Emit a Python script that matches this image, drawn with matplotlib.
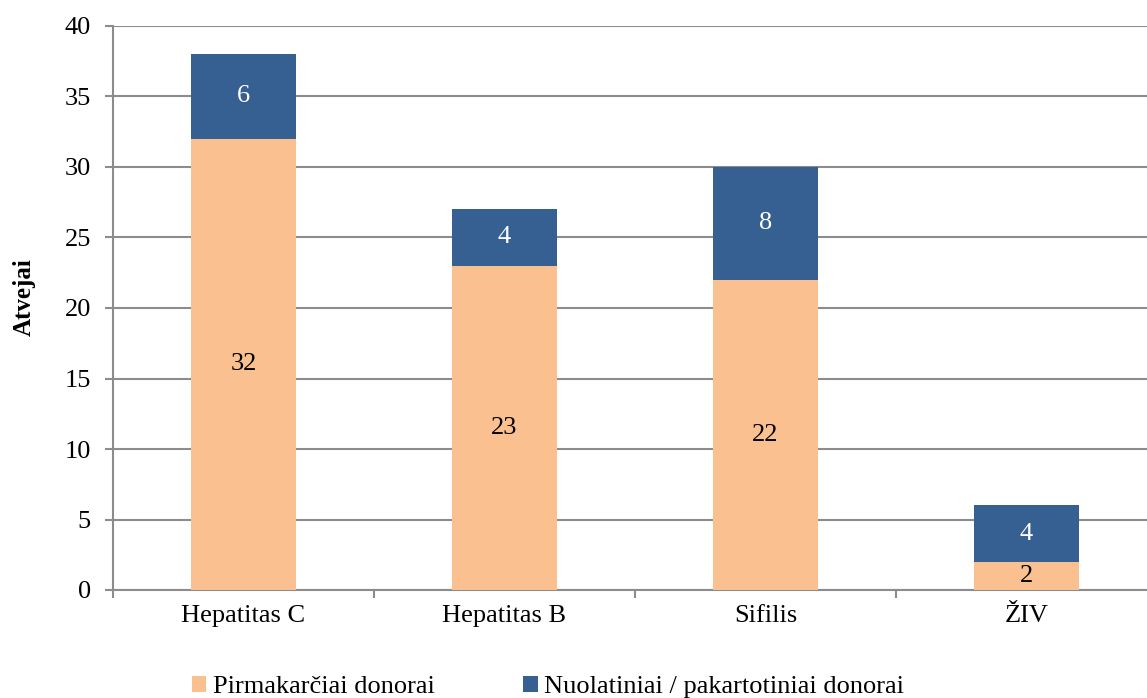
import matplotlib.pyplot as plt
from matplotlib.patches import Patch

categories = ["Hepatitas C", "Hepatitas B", "Sifilis", "ŽIV"]
first_time = [32, 23, 22, 2]
repeat = [6, 4, 8, 4]
series_names = ["Pirmakarčiai donorai", "Nuolatiniai / pakartotiniai donorai"]
y_ticks = [0, 5, 10, 15, 20, 25, 30, 35, 40]

orange = "#FAC090"
blue = "#366092"
grid_col = "#8C8C8C"

plt.rcParams['font.family'] = ['Liberation Serif', 'DejaVu Serif']

fig = plt.figure(figsize=(11.47, 6.98), dpi=100)
ax = fig.add_axes([113 / 1147, 1 - 590 / 698, 1044 / 1147, 564 / 698])

x = list(range(len(categories)))
b1 = ax.bar(x, first_time, width=0.4, color=orange, zorder=3)
b2 = ax.bar(x, repeat, width=0.4, bottom=first_time, color=blue, zorder=3)

for rect, v in zip(b1, first_time):
    ax.text(rect.get_x() + rect.get_width() / 2, rect.get_y() + rect.get_height() / 2,
            str(v), ha='center', va='center', fontsize=19, color='black', zorder=4)
for rect, v in zip(b2, repeat):
    ax.text(rect.get_x() + rect.get_width() / 2, rect.get_y() + rect.get_height() / 2,
            str(v), ha='center', va='center', fontsize=19, color='white', zorder=4)

ax.set_xlim(-0.5, len(categories) - 0.5)
ax.set_ylim(0, 40)
ax.set_yticks(y_ticks)
ax.set_yticklabels([str(t) for t in y_ticks], fontsize=19)
ax.set_xticks(x)
ax.set_xticklabels(categories, fontsize=19)
ax.set_xticks([i - 0.5 for i in range(len(categories) + 1)], minor=True)

ax.tick_params(axis='x', which='major', length=0, pad=11)
ax.tick_params(axis='x', which='minor', length=6, width=1.5, color=grid_col, direction='out')
ax.tick_params(axis='y', length=6, width=1.5, color=grid_col, direction='out', pad=10)

ax.yaxis.grid(True, color=grid_col, linewidth=1.5, zorder=0)
ax.set_axisbelow(True)
for s in ['top', 'right']:
    ax.spines[s].set_visible(False)
for s in ['left', 'bottom']:
    ax.spines[s].set_color(grid_col)
    ax.spines[s].set_linewidth(1.5)

ax.set_ylabel("Atvejai", fontsize=18, fontweight='bold')
ax.yaxis.set_label_coords(-0.074, 0.52)

handles = [Patch(facecolor=orange), Patch(facecolor=blue)]
fig.legend(handles, series_names, loc='center', bbox_to_anchor=(548 / 1147, 1 - 687 / 698),
           ncol=2, frameon=False, fontsize=19, handlelength=0.55, handleheight=0.55,
           handletextpad=0.25, columnspacing=3.35, borderpad=0)

fig.savefig("out.png", dpi=100)
